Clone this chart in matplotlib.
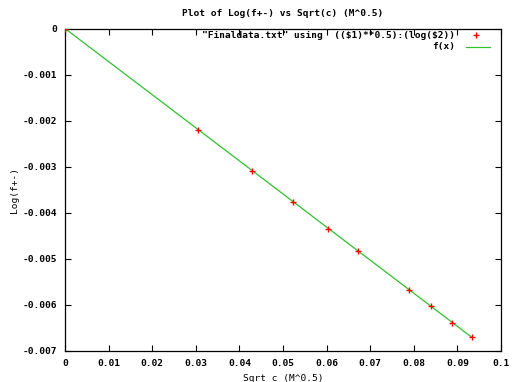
import matplotlib
matplotlib.use('Agg')
import matplotlib.pyplot as plt

# data
sqrt_c = [0.0, 0.03043, 0.04282, 0.05236, 0.06039, 0.06713, 0.07883, 0.08387, 0.08883, 0.09328]
log_f = [0.0, -0.002207, -0.003091, -0.003765, -0.004352, -0.004837, -0.00567, -0.006033, -0.006387, -0.0067]

# fitted line f(x), endpoints
fit_x = [0.0, 0.09328]
fit_y = [0.0, -0.0067]

xticks = [0, 0.01, 0.02, 0.03, 0.04, 0.05, 0.06, 0.07, 0.08, 0.09, 0.1]
xtick_labels = ['0', '0.01', '0.02', '0.03', '0.04', '0.05', '0.06', '0.07', '0.08', '0.09', '0.1']
yticks = [0, -0.001, -0.002, -0.003, -0.004, -0.005, -0.006, -0.007]
ytick_labels = ['0', '-0.001', '-0.002', '-0.003', '-0.004', '-0.005', '-0.006', '-0.007']

plt.rcParams['font.family'] = 'DejaVu Sans Mono'
plt.rcParams['font.weight'] = 'bold'
plt.rcParams['font.size'] = 6.8

fig = plt.figure(figsize=(5.13, 3.82), dpi=100)
ax = fig.add_axes([65 / 513, 1 - 351 / 382, 436 / 513, 322.5 / 382])

red = '#ff0000'
green = '#30c030'

ax.plot(fit_x, fit_y, color=green, lw=0.9, zorder=2)
ax.plot(sqrt_c, log_f, ls='none', marker='+', ms=5, mew=1.0, color=red, zorder=3)

ax.set_xlim(0, 0.1)
ax.set_ylim(-0.007, 0)
ax.set_xticks(xticks)
ax.set_xticklabels(xtick_labels)
ax.set_yticks(yticks)
ax.set_yticklabels(ytick_labels)
ax.tick_params(direction='in', length=4, width=0.8, top=True, right=True, pad=6)
for s in ax.spines.values():
    s.set_linewidth(0.9)

ax.set_title('Plot of Log(f+-) vs Sqrt(c) (M^0.5)', pad=9, fontweight='bold', fontsize=6.8)
ax.set_xlabel('Sqrt c (M^0.5)', labelpad=4)
ax.set_ylabel('Log(f+-)', labelpad=2)

# gnuplot style key, top right
key_x = (455 - 65) / 436
ax.text(key_x, 1 - (35 - 28.5) / 322.5, '"Finaldata.txt" using  (($1)**0.5):(log($2))',
        transform=ax.transAxes, ha='right', va='center', parse_math=False)
ax.plot([(476 - 65) / 436], [1 - (35 - 28.5) / 322.5], transform=ax.transAxes,
        marker='+', ms=5, mew=1.0, color=red, clip_on=False)
ax.text(key_x, 1 - (47 - 28.5) / 322.5, 'f(x)', transform=ax.transAxes,
        ha='right', va='center')
ax.plot([(466 - 65) / 436, (490 - 65) / 436], [1 - (47 - 28.5) / 322.5] * 2,
        transform=ax.transAxes, color=green, lw=0.9, clip_on=False)

fig.savefig('out.png', dpi=100)
